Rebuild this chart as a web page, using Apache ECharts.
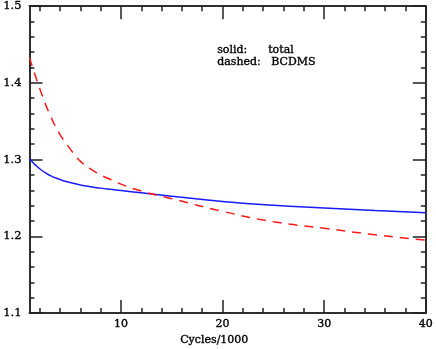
<!DOCTYPE html>
<html lang="en">
<head>
    <meta charset="UTF-8">
    <title>Cycles</title>
    <script src="https://cdn.jsdelivr.net/npm/echarts@6/dist/echarts.min.js"></script>
    <style>
        html, body { margin: 0; padding: 0; background: #fff; }
        #chart { width: 436px; height: 349px; }
    </style>
</head>
<body>
<div id="chart"></div>
<script>
    // x values (thousands of cycles)
    var cycles = [1, 2, 3, 4, 5, 6, 7, 8, 9, 10, 12, 15, 20, 25, 30, 35, 40];
    // solid: total
    var totalVals = [1.301, 1.288, 1.2795, 1.274, 1.270, 1.267, 1.2647, 1.2628, 1.2612, 1.2597, 1.2567, 1.2522, 1.2455, 1.2405, 1.237, 1.2337, 1.2307];
    // dashed: BCDMS
    var bcdmsVals = [1.433, 1.393, 1.359, 1.333, 1.314, 1.298, 1.288, 1.280, 1.274, 1.268, 1.259, 1.249, 1.2325, 1.219, 1.2105, 1.202, 1.195];

    var xMajor = [10, 20, 30, 40];
    var xMinor = [2, 4, 6, 8, 12, 14, 16, 18, 22, 24, 26, 28, 32, 34, 36, 38];
    var yMajor = [1.1, 1.2, 1.3, 1.4, 1.5];
    var yMinor = [1.12, 1.14, 1.16, 1.18, 1.22, 1.24, 1.26, 1.28, 1.32, 1.34, 1.36, 1.38, 1.42, 1.44, 1.46, 1.48];

    var font = 'DejaVu Serif';
    var axisColor = '#222';

    function pairs(xs, ys) {
        var out = [];
        xs.forEach(function (x, i) { out.push([x, ys[i]]); });
        return out;
    }

    function txt(s, left, top) {
        return {
            type: 'text', left: left, top: top,
            style: {
                text: s, fontFamily: font, fontSize: 11, fill: '#000',
                stroke: '#000', lineWidth: 0.35
            }
        };
    }

    function xAx(pos, ticks, len, showLabel) {
        return {
            type: 'value', position: pos, min: 1, max: 40,
            axisLine: { show: true, onZero: false, lineStyle: { color: axisColor, width: 1.5 } },
            axisTick: { show: true, inside: true, length: len, customValues: ticks, lineStyle: { color: axisColor, width: 1.5 } },
            axisLabel: showLabel ? {
                show: true, customValues: ticks, margin: 6,
                color: '#000', fontFamily: font, fontSize: 11,
                textBorderColor: '#000', textBorderWidth: 0.35
            } : { show: false },
            splitLine: { show: false }
        };
    }

    function yAx(pos, ticks, len, showLabel) {
        return {
            type: 'value', position: pos, min: 1.1, max: 1.5,
            axisLine: { show: true, onZero: false, lineStyle: { color: axisColor, width: 1.5 } },
            axisTick: { show: true, inside: true, length: len, customValues: ticks, lineStyle: { color: axisColor, width: 1.5 } },
            axisLabel: showLabel ? {
                show: true, customValues: ticks, margin: 8,
                color: '#000', fontFamily: font, fontSize: 11.5,
                textBorderColor: '#000', textBorderWidth: 0.35,
                formatter: function (v) { return v.toFixed(1); }
            } : { show: false },
            splitLine: { show: false }
        };
    }

    var option = {
        animation: false,
        backgroundColor: '#fff',
        grid: { left: 28, right: 8, top: 5, bottom: 36 },
        xAxis: [
            xAx('bottom', xMajor, 13, true),
            xAx('bottom', xMinor, 5, false),
            xAx('top', xMajor, 13, false),
            xAx('top', xMinor, 5, false)
        ],
        yAxis: [
            yAx('left', yMajor, 13, true),
            yAx('left', yMinor, 5, false),
            yAx('right', yMajor, 13, false),
            yAx('right', yMinor, 5, false)
        ],
        graphic: [
            txt('Cycles/1000', 180, 334),
            txt('solid:', 217, 44),
            txt('total', 268, 44),
            txt('dashed:', 217, 56),
            txt('BCDMS', 271, 56)
        ],
        series: [{
            name: 'total',
            type: 'line',
            xAxisIndex: 0, yAxisIndex: 0,
            data: pairs(cycles, totalVals),
            smooth: 0.5,
            showSymbol: false,
            lineStyle: { color: '#1a1aff', width: 1.5 }
        }, {
            name: 'BCDMS',
            type: 'line',
            xAxisIndex: 0, yAxisIndex: 0,
            data: pairs(cycles, bcdmsVals),
            smooth: 0.5,
            showSymbol: false,
            lineStyle: { color: '#ff1a1a', width: 1.5, type: [9, 7] }
        }]
    };

    var myChart = echarts.init(document.getElementById('chart'));
    myChart.setOption(option);
</script>
</body>
</html>
